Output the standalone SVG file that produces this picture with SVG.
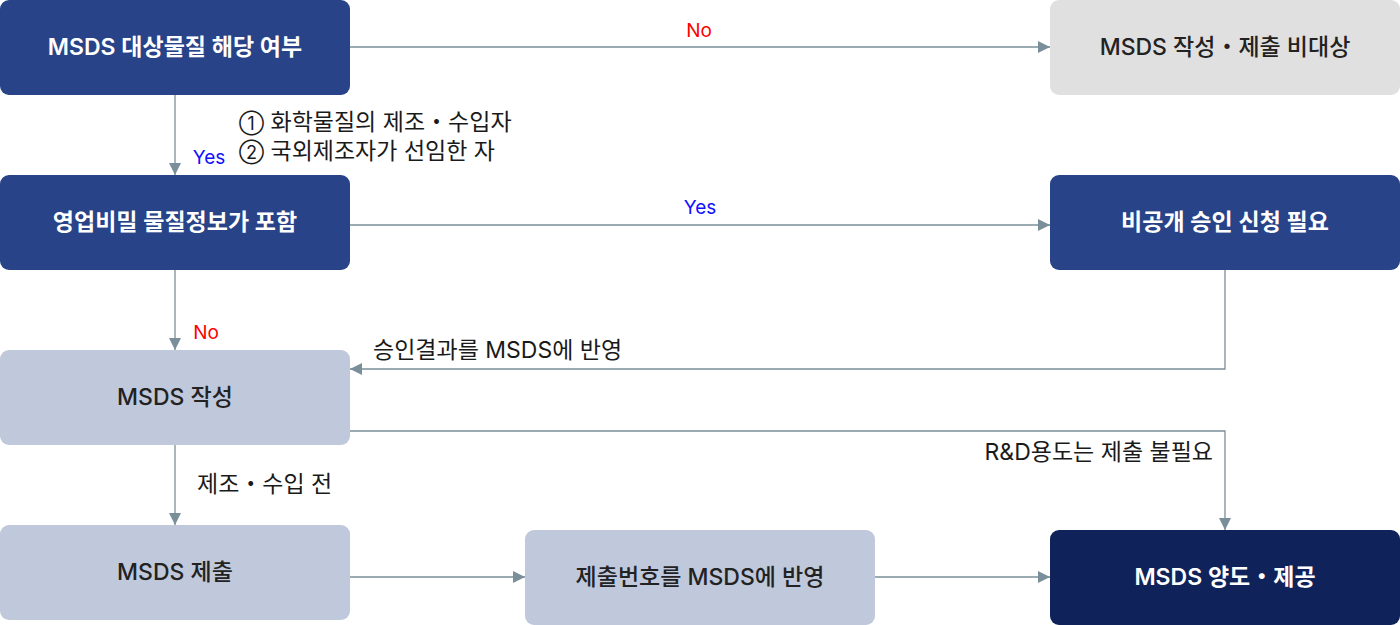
<svg xmlns="http://www.w3.org/2000/svg" width="1400" height="625" viewBox="0 0 1400 625">
<style>
.dark{fill:#284387}
.navy{fill:#0f2259}
.grey{fill:#e0e0e0}
.light{fill:#c0c8dc}
.nt{font-family:Inter,"Noto Sans CJK KR",sans-serif;font-size:23px;font-weight:600;text-anchor:middle;dominant-baseline:central}
.w{fill:#ffffff}
.k{fill:#222222;font-weight:500}
.lbl{font-family:Inter,"Noto Sans CJK KR",sans-serif;font-size:23px;fill:#1a1a1a}
.num{font-size:18px}
.yes{font-family:Inter,"Noto Sans CJK KR",sans-serif;font-size:19px;fill:#1010ff}
.no{font-family:Inter,"Noto Sans CJK KR",sans-serif;font-size:19px;fill:#ff0000}
.c{fill:none;stroke:#7a8f99;stroke-width:1.3;marker-end:url(#ah)}
</style>
<defs>
<marker id="ah" viewBox="0 0 12 12" refX="12" refY="6" markerWidth="12" markerHeight="12" markerUnits="userSpaceOnUse" orient="auto">
<path d="M0,0 L12,6 L0,12 z" fill="#7a8f99"/>
</marker>
</defs>
<rect width="1400" height="625" fill="#ffffff"/>
<g id="connectors">
<path class="c" d="M350,47 H1050"/>
<path class="c" d="M175,95 V175"/>
<path class="c" d="M350,225 H1050"/>
<path class="c" d="M175,270 V350"/>
<path class="c" d="M1225,270 V369 H350"/>
<path class="c" d="M350,431 H1225 V530"/>
<path class="c" d="M175,445 V525"/>
<path class="c" d="M350,577 H525"/>
<path class="c" d="M875,577 H1050"/>
<text class="no" x="699" y="37" text-anchor="middle">No</text>
<text class="yes" x="209" y="164" text-anchor="middle">Yes</text>
<text class="yes" x="700" y="214" text-anchor="middle">Yes</text>
<text class="no" x="206" y="339" text-anchor="middle">No</text>
<text class="lbl" x="239" y="130"><tspan class="num">①</tspan> 화학물질의 제조・수입자</text>
<text class="lbl" x="239" y="159"><tspan class="num">②</tspan> 국외제조자가 선임한 자</text>
<text class="lbl" x="373" y="358">승인결과를 MSDS에 반영</text>
<text class="lbl" x="1213" y="460" text-anchor="end">R&amp;D용도는 제출 불필요</text>
<text class="lbl" x="197" y="492">제조・수입 전</text>
</g>
<g id="n1"><rect class="dark" x="0" y="0" width="350" height="95" rx="9"/><text class="nt w" x="175" y="47">MSDS 대상물질 해당 여부</text></g>
<g id="n2"><rect class="grey" x="1050" y="0" width="350" height="95" rx="9"/><text class="nt k" x="1225" y="47">MSDS 작성・제출 비대상</text></g>
<g id="n3"><rect class="dark" x="0" y="175" width="350" height="95" rx="9"/><text class="nt w" x="175" y="222">영업비밀 물질정보가 포함</text></g>
<g id="n4"><rect class="dark" x="1050" y="175" width="350" height="95" rx="9"/><text class="nt w" x="1225" y="222">비공개 승인 신청 필요</text></g>
<g id="n5"><rect class="light" x="0" y="350" width="350" height="95" rx="9"/><text class="nt k" x="175" y="397">MSDS 작성</text></g>
<g id="n6"><rect class="light" x="0" y="525" width="350" height="95" rx="9"/><text class="nt k" x="175" y="572">MSDS 제출</text></g>
<g id="n7"><rect class="light" x="525" y="530" width="350" height="95" rx="9"/><text class="nt k" x="700" y="577">제출번호를 MSDS에 반영</text></g>
<g id="n8"><rect class="navy" x="1050" y="530" width="350" height="95" rx="9"/><text class="nt w" x="1225" y="577">MSDS 양도・제공</text></g>
</svg>
